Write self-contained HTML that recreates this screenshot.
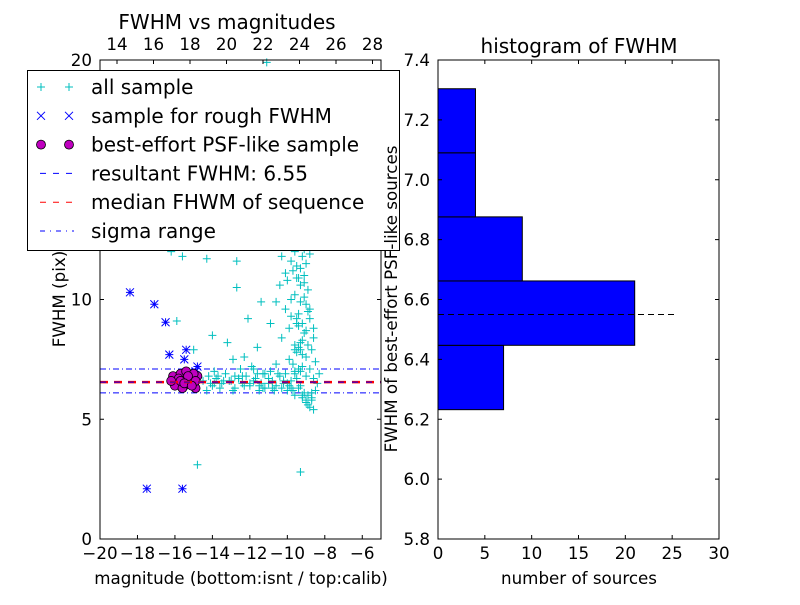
<!DOCTYPE html>
<html><head><meta charset="utf-8"><style>
body{margin:0;background:#fff}
svg text{font-family:"DejaVu Sans","Liberation Sans",sans-serif;fill:#000}
</style></head><body>
<svg id="s" width="800" height="600" xmlns="http://www.w3.org/2000/svg">
<rect width="800" height="600" fill="#fff"/>
<g id="L"></g>
<g id="R"></g>
</svg>
<script>
const cyanMag=[-14.5,-14.2,-14.0,-13.8,-13.5,-13.3,-13.0,-12.8,-12.6,-12.4,-12.2,-12.0,-11.8,-11.6,-11.4,-11.2,-11.0,-10.8,-10.6,-10.4,-10.2,-10.0,-9.8,-9.6,-9.4,-9.2,-9.0,-8.8,-8.6,-8.7,-9.1,-9.3,-9.5,-10.1,-10.9,-11.5,-12.9,-13.6,-14.3,-13.9,-12.5,-11.9,-11.3,-10.7,-10.3,-9.9,-9.7,-8.9,-8.5,-8.4,-8.3,-8.6,
-9.7,-9.5,-9.3,-9.1,-9.0,-8.8,-8.7,-8.6,-9.2,-9.4,-9.0,-8.8,-9.6,-9.3,-9.1,-8.9,-9.5,-9.2,-9.0,-9.4,-9.8,-10.0,-9.6,-9.3,-9.5,-10.2,-9.8,-10.4,-10.1,-9.9,-10.3,-8.6,-8.5,-9.2,-9.9,
-11.1,-16.2,-15.6,-14.3,-12.7,-11.4,-12.1,-14.0,-13.2,-12.9,-12.3,-15.0,-14.8,-9.3,-15.9,-11.6,-10.6,-10.9,-12.7,
-9.4,-9.2,-9.0,-8.9,-9.3,-9.1,-9.5,-9.7,-9.0,-8.8,-9.2,-9.4,-9.1,-8.9,-9.3,-9.6,-9.0,-9.2,-9.4,-8.8,-9.1,-9.3,-8.9,-9.5,-9.2,-9.0,-8.7,-9.4,-9.6,-9.1,
-10.5,-11.0,-11.7,-12.3,-13.1,-13.7,-14.1,-10.8,-11.3,-12.0,-12.6,-13.4,-10.2,-11.5,-12.8,-13.9,-10.0,-9.8,-8.9,-8.7,
-9.8,-9.6,-9.4,-9.7,-10.1,-9.5,-9.3,-9.8,-10.3,-9.6,-11.2,-11.8,-12.4,-10.6];
const cyanFwhm=[6.6,6.8,6.4,6.7,6.5,6.9,6.6,6.3,6.7,6.5,6.8,6.4,6.6,6.9,6.5,6.3,6.7,6.6,6.4,6.8,6.5,6.2,6.6,6.0,6.3,5.9,5.7,5.5,5.4,5.8,6.1,6.4,6.7,6.9,7.0,6.2,6.2,6.3,6.2,7.0,7.1,7.2,6.3,6.2,6.3,6.4,6.2,6.0,6.2,6.5,6.9,6.7,
7.3,7.8,8.2,8.6,7.6,7.1,7.9,8.4,9.0,9.4,9.8,9.2,10.2,10.6,11.0,10.4,11.4,11.8,12.2,12.6,11.6,10.8,12.0,13.0,13.5,12.9,12.3,10.6,9.6,8.8,8.4,8.8,7.4,7.2,7.5,
19.9,12.0,11.8,11.7,11.6,9.9,9.2,8.5,8.2,7.5,7.6,7.9,3.1,2.8,9.1,8.0,9.9,9.0,10.5,
8.0,8.3,8.7,9.5,9.9,10.1,10.9,11.2,11.5,11.9,12.4,13.2,13.8,12.8,7.0,6.9,6.8,7.7,8.9,9.6,10.7,11.3,8.1,9.2,6.0,5.8,6.1,7.1,7.9,12.1,
6.9,6.5,6.7,6.4,6.6,6.8,6.5,6.3,6.9,6.5,6.7,6.6,6.6,6.4,6.8,6.5,6.5,6.3,5.6,5.9,
9.3,8.1,10.9,13.3,11.1,9.0,7.9,10.0,11.8,7.0,6.9,7.1,6.8,7.3];
const roughMag=[-18.4,-17.1,-16.5,-16.3,-15.4,-15.5,-14.8,-17.5,-15.6,-14.9,-15.0];
const roughFwhm=[10.3,9.8,9.05,7.7,7.9,7.5,7.2,2.1,2.1,7.0,6.9];
const bestMag=[-16.1,-15.9,-15.7,-15.5,-15.3,-15.1,-14.9,-14.8,-16.0,-15.8,-15.6,-15.4,-15.2,-15.0,-14.9,-15.7,-15.3,-16.2,-15.5,-15.1];
const bestFwhm=[6.8,6.5,6.9,6.4,6.7,6.6,6.3,6.8,6.4,6.7,6.3,7.0,6.5,6.9,6.6,6.6,6.8,6.6,6.5,6.4];
const resultFwhm=6.55, medianFwhm=6.55, sigmaLo=6.1, sigmaHi=7.1;
const xTicks=[-20,-18,-16,-14,-12,-10,-8,-6];
const yTicks=[0,5,10,15,20];
const topTicks=[14,16,18,20,22,24,26,28];
const binEdges=[6.232,6.447,6.662,6.876,7.090,7.304];
const binCounts=[7,21,9,4,4];
const hxTicks=[0,5,10,15,20,25,30];
const hyTicks=[5.8,6.0,6.2,6.4,6.6,6.8,7.0,7.2,7.4];

const NS="http://www.w3.org/2000/svg";
function mk(p,t,a,txt){const e=document.createElementNS(NS,t);for(const k in a)e.setAttribute(k,a[k]);if(txt!==undefined)e.textContent=txt;p.appendChild(e);return e;}
const L=document.getElementById('L'),R=document.getElementById('R');
const lx0=100,lx1=381,ly0=60,ly1=539;
const X=v=>lx0+(v+20)*(lx1-lx0)/15, Y=v=>ly1-v*(ly1-ly0)/20, XT=v=>117+(v-14)*18.25;
const FS=16.7, TS=20;
let e;
[[sigmaLo,'6,3,1,3'],[sigmaHi,'6,3,1,3']].forEach(([v,d])=>{e=mk(L,'line',{x1:lx0,x2:lx1,y1:Y(v),y2:Y(v),stroke:'#00f','stroke-dasharray':d,'stroke-width':1});

});
const cp=(x,y)=>`M${x-4},${y}H${x+4}M${x},${y-4}V${y+4}`;
const xp=(x,y)=>`M${x-4},${y-4}L${x+4},${y+4}M${x-4},${y+4}L${x+4},${y-4}`;
cyanMag.forEach((m,i)=>{e=mk(L,'path',{d:cp(X(m),Y(cyanFwhm[i])),stroke:'#00bfbf','stroke-width':1,fill:'none'});

});
roughMag.forEach((m,i)=>{e=mk(L,'path',{d:xp(X(m),Y(roughFwhm[i]))+cp(X(m),Y(roughFwhm[i])),stroke:'#00f','stroke-width':1,fill:'none'});

});
bestMag.forEach((m,i)=>{e=mk(L,'circle',{cx:X(m),cy:Y(bestFwhm[i]),r:4.5,fill:'#bf00bf',stroke:'#000','stroke-width':0.8});

});
e=mk(L,'line',{x1:lx0,x2:lx1,y1:Y(medianFwhm),y2:Y(medianFwhm),stroke:'#f00','stroke-dasharray':'8,6','stroke-width':2.5});


e=mk(L,'line',{x1:lx0,x2:lx1,y1:Y(resultFwhm),y2:Y(resultFwhm),stroke:'#00f','stroke-dasharray':'6,8','stroke-width':1});


mk(L,'rect',{x:lx0,y:ly0,width:lx1-lx0,height:ly1-ly0,fill:'none',stroke:'#000'});
xTicks.forEach(v=>{mk(L,'path',{d:`M${X(v)},${ly1}v-4`,stroke:'#000'});
e=mk(L,'text',{x:X(v),y:ly1+20,'font-size':FS,'text-anchor':'middle'},'\u2212'+Math.abs(v));

});
topTicks.forEach(v=>{mk(L,'path',{d:`M${XT(v)},${ly0}v4`,stroke:'#000'});
e=mk(L,'text',{x:XT(v),y:ly0-10,'font-size':FS,'text-anchor':'middle'},v);

});
yTicks.forEach(v=>{mk(L,'path',{d:`M${lx0},${Y(v)}h4M${lx1},${Y(v)}h-4`,stroke:'#000'});
e=mk(L,'text',{x:lx0-8,y:Y(v)+6,'font-size':FS,'text-anchor':'end'},v);

});
e=mk(L,'text',{x:241,y:584,'font-size':FS,'text-anchor':'middle'},'magnitude (bottom:isnt / top:calib)');


e=mk(L,'text',{x:0,y:0,'font-size':FS,'text-anchor':'middle',transform:`translate(65,299) rotate(-90)`},'FWHM (pix)');


e=mk(L,'text',{x:227,y:29,'font-size':TS,'text-anchor':'middle'},'FWHM vs magnitudes');


const lg=mk(L,'g',{});


mk(lg,'rect',{x:27.5,y:70.5,width:372,height:180,fill:'#fff',stroke:'#000'});
const labels=['all sample','sample for rough FWHM','best-effort PSF-like sample','resultant FWHM: 6.55','median FHWM of sequence','sigma range'];
labels.forEach((t,i)=>{const y=87+i*28.8;
if(i==0){[41,69].forEach(x=>mk(lg,'path',{d:cp(x,y),stroke:'#00bfbf',fill:'none'}));}
if(i==1){[41,69].forEach(x=>mk(lg,'path',{d:xp(x,y),stroke:'#00f',fill:'none'}));}
if(i==2){[41,69].forEach(x=>mk(lg,'circle',{cx:x,cy:y,r:4.5,fill:'#bf00bf',stroke:'#000','stroke-width':0.8}));}
if(i==3)mk(lg,'line',{x1:40,x2:74,y1:y,y2:y,stroke:'#00f','stroke-dasharray':'6,7'});
if(i==4)mk(lg,'line',{x1:40,x2:74,y1:y,y2:y,stroke:'#f00','stroke-dasharray':'6,7'});
if(i==5)mk(lg,'line',{x1:40,x2:74,y1:y,y2:y,stroke:'#00f','stroke-dasharray':'5,5,1,5'});
e=mk(lg,'text',{x:91,y:y+7,'font-size':TS},t);

});
const rx0=438,rx1=719,ry0=60,ry1=539;
const HX=v=>rx0+v*(rx1-rx0)/30, HY=v=>ry1-(v-5.8)*(ry1-ry0)/1.6;
binCounts.forEach((c,i)=>{e=mk(R,'rect',{x:HX(0),y:HY(binEdges[i+1]),width:HX(c)-HX(0),height:HY(binEdges[i])-HY(binEdges[i+1]),fill:'#00f',stroke:'#000'});

});
e=mk(R,'line',{x1:HX(0),x2:HX(25.5),y1:HY(resultFwhm),y2:HY(resultFwhm),stroke:'#000','stroke-dasharray':'6,4'});


mk(R,'rect',{x:rx0,y:ry0,width:rx1-rx0,height:ry1-ry0,fill:'none',stroke:'#000'});
hxTicks.forEach(v=>{mk(R,'path',{d:`M${HX(v)},${ry1}v-4M${HX(v)},${ry0}v4`,stroke:'#000'});
e=mk(R,'text',{x:HX(v),y:ry1+20,'font-size':FS,'text-anchor':'middle'},v);

});
hyTicks.forEach(v=>{mk(R,'path',{d:`M${rx0},${HY(v)}h4M${rx1},${HY(v)}h-4`,stroke:'#000'});
e=mk(R,'text',{x:rx0-8,y:HY(v)+6,'font-size':FS,'text-anchor':'end'},v.toFixed(1));

});
e=mk(R,'text',{x:579,y:584,'font-size':FS,'text-anchor':'middle'},'number of sources');


e=mk(R,'text',{x:0,y:0,'font-size':FS,'text-anchor':'middle',transform:`translate(397,299) rotate(-90)`},'FWHM of best-effort PSF-like sources');


e=mk(R,'text',{x:579,y:53,'font-size':TS,'text-anchor':'middle'},'histogram of FWHM');


</script>
</body></html>
